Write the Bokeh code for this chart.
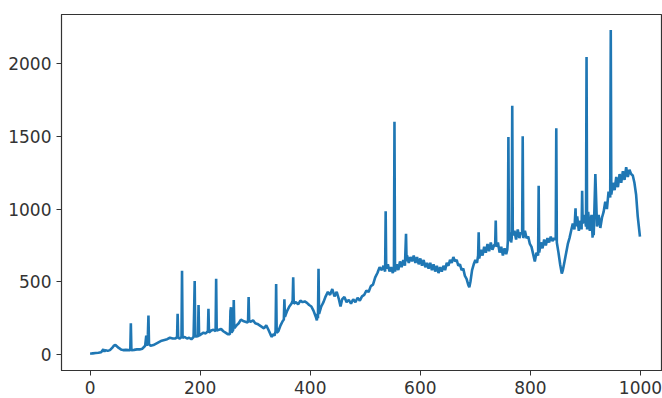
from bokeh.plotting import figure
from bokeh.models import Range1d, FixedTicker
from bokeh.embed import file_html
from bokeh.resources import INLINE

# values: sample index and value, ten per row
xs = [0, 5, 10, 15, 20, 24, 26, 28, 32, 36,
      40, 43, 46, 49, 52, 56, 60, 65, 70, 73,
      74, 75, 80, 85, 90, 95, 100, 102, 103, 105,
      106, 107, 110, 115, 120, 125, 130, 135, 140, 145,
      150, 155, 158, 159, 160, 163, 166, 167, 168, 172,
      176, 180, 184, 188, 189, 190, 191, 194, 196, 197,
      198, 202, 206, 210, 214, 215, 216, 220, 224, 228,
      229, 230, 234, 238, 242, 246, 250, 254, 255, 256,
      257, 260, 261, 262, 266, 270, 274, 278, 282, 286,
      287, 288, 289, 292, 296, 300, 304, 308, 312, 316,
      320, 324, 328, 330, 332, 335, 337, 338, 339, 342,
      346, 350, 352, 353, 354, 358, 362, 366, 368, 369,
      370, 374, 378, 382, 386, 390, 394, 398, 402, 406,
      410, 412, 413, 414, 415, 416, 420, 424, 428, 432,
      436, 440, 444, 448, 452, 455, 458, 462, 466, 470,
      474, 478, 482, 486, 490, 494, 498, 502, 506, 510,
      514, 518, 522, 526, 530, 533, 536, 537, 538, 541,
      544, 547, 550, 552, 553, 554, 557, 560, 563, 566,
      569, 572, 574, 575, 576, 579, 582, 585, 588, 591,
      594, 597, 600, 603, 606, 609, 612, 615, 618, 621,
      624, 627, 630, 633, 636, 639, 642, 645, 648, 651,
      654, 657, 660, 663, 666, 669, 672, 675, 678, 681,
      684, 687, 689, 691, 694, 697, 700, 703, 705, 706,
      707, 710, 713, 716, 719, 722, 725, 728, 731, 734,
      736, 737, 738, 741, 744, 747, 750, 753, 756, 758,
      759, 760, 761, 763, 765, 766, 767, 768, 771, 774,
      777, 780, 783, 785, 786, 787, 790, 793, 796, 799,
      802, 805, 808, 811, 814, 815, 816, 819, 822, 825,
      828, 831, 834, 837, 840, 843, 846, 847, 848, 851,
      854, 857, 859, 862, 865, 868, 871, 874, 877, 880,
      882, 883, 885, 888, 891, 893, 894, 895, 898, 901,
      902, 903, 905, 908, 911, 913, 914, 915, 918, 921,
      924, 927, 930, 933, 936, 939, 942, 945, 946, 947,
      950, 953, 956, 959, 962, 965, 968, 971, 974, 977,
      980, 983, 986, 989, 992, 995, 999]
ys = [5, 8, 10, 12, 15, 35, 20, 30, 25, 30,
      45, 60, 65, 55, 45, 35, 30, 32, 30, 30,
      215, 30, 32, 35, 35, 40, 60, 130, 60, 140,
      268, 70, 60, 65, 75, 85, 95, 100, 105, 115,
      110, 110, 120, 280, 115, 110, 120, 575, 115, 120,
      110, 115, 105, 120, 300, 505, 120, 130, 120, 340,
      130, 140, 150, 145, 160, 315, 150, 165, 170, 160,
      520, 165, 170, 175, 160, 150, 140, 140, 300, 325,
      150, 170, 375, 180, 200, 215, 240, 230, 225, 220,
      230, 395, 230, 225, 235, 215, 210, 200, 190, 180,
      200, 170, 135, 120, 140, 130, 160, 485, 150, 160,
      200, 230, 240, 380, 260, 300, 330, 350, 370, 530,
      350, 360, 345, 370, 360, 365, 355, 340, 330, 300,
      260, 235, 280, 250, 590, 280, 330, 360, 400, 430,
      410, 450, 400, 430, 380, 330, 380, 395, 360, 375,
      350, 380, 360, 390, 370, 400, 410, 440, 430, 470,
      480, 530, 560, 600, 580, 610, 570, 985, 590, 620,
      570, 600, 560, 590, 1600, 570, 620, 580, 640, 600,
      650, 610, 830, 640, 680, 630, 670, 640, 680, 630,
      670, 620, 660, 610, 650, 600, 630, 590, 630, 580,
      620, 570, 610, 560, 600, 570, 610, 580, 630, 610,
      650, 630, 670, 640, 650, 610, 620, 580, 590, 540,
      520, 480, 462, 500, 580, 620, 650, 630, 680, 840,
      660, 720, 680, 740, 700, 760, 710, 770, 720, 750,
      760, 920, 740, 770, 700, 740, 680, 730, 690, 720,
      780, 1495, 780, 840, 770, 800, 1710, 820, 850, 790,
      860, 800, 840, 830, 1500, 800, 850, 800, 810, 760,
      740, 690, 640, 700, 680, 1160, 700, 770, 730, 790,
      750, 800, 770, 810, 780, 800, 790, 1555, 770, 700,
      620, 556, 580, 640, 700, 760, 800, 850, 900, 860,
      1005, 880, 950, 850, 920, 860, 1125, 900, 960, 880,
      2045, 860, 980, 850, 960, 803, 960, 820, 1240, 880,
      960, 870, 940, 980, 1050, 1000, 1120, 1080, 2230, 1100,
      1180, 1130, 1220, 1150, 1240, 1180, 1260, 1200, 1287, 1220,
      1270, 1240, 1230, 1180, 1100, 950, 810]
assert len(xs) == len(ys)

x_ticks = [0, 200, 400, 600, 800, 1000]
y_ticks = [0, 500, 1000, 1500, 2000]

p = figure(width=662, height=398, output_backend="svg", toolbar_location=None,
           x_range=Range1d(-52, 1040), y_range=Range1d(-110, 2337),
           min_border_left=61, min_border_right=0, min_border_top=14, min_border_bottom=28)
p.background_fill_color = "white"
p.border_fill_color = "white"
p.outline_line_color = "#333333"
p.outline_line_width = 1.2
p.grid.visible = False

p.line(xs, ys, line_color="#1f77b4", line_width=2.6)

for ax in (p.xaxis[0], p.yaxis[0]):
    ax.axis_line_color = "#333333"
    ax.major_tick_line_color = "#333333"
    ax.major_tick_in = 0
    ax.major_tick_out = 5
    ax.minor_tick_line_color = None
    ax.major_label_text_font = "DejaVu Sans"
    ax.major_label_text_font_size = "17px"
    ax.major_label_text_color = "#333333"
    ax.major_label_standoff = 5
p.xaxis[0].ticker = FixedTicker(ticks=x_ticks)
p.yaxis[0].ticker = FixedTicker(ticks=y_ticks)

open("out.html", "w").write(file_html(p, INLINE))
